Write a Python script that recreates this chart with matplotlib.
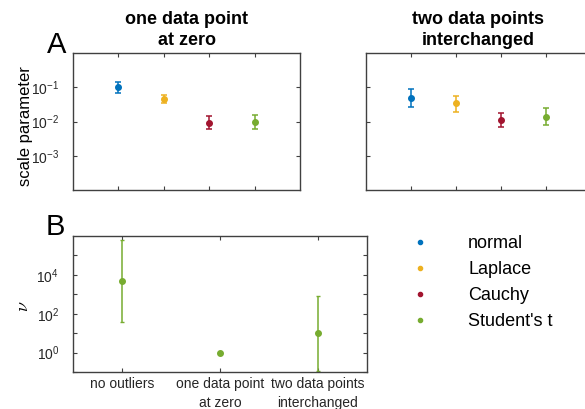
import numpy as np
import matplotlib.pyplot as plt
from matplotlib.lines import Line2D
from matplotlib.ticker import NullLocator, FixedLocator, NullFormatter

plt.rcParams["font.family"] = ["Liberation Sans", "DejaVu Sans"]
plt.rcParams["mathtext.fontset"] = "cm"
plt.rcParams["axes.unicode_minus"] = False

# ── Data ──────────────────────────────────────────────────────────────────────
DISTS  = ["normal", "Laplace", "Cauchy", "Student's t"]
COLORS = ["#0072BD", "#EDB120", "#A2142F", "#77AC30"]

# scale parameter (estimate, lower, upper) - one data point at zero
zero_mid = [0.100, 0.0466, 0.0091, 0.0094]
zero_lo  = [0.068, 0.0347, 0.0060, 0.0060]
zero_hi  = [0.140, 0.0610, 0.0140, 0.0151]

# scale parameter - two data points interchanged
swap_mid = [0.0497, 0.0339, 0.0112, 0.0137]
swap_lo  = [0.0270, 0.0193, 0.0071, 0.0080]
swap_hi  = [0.0897, 0.0570, 0.0177, 0.0240]

# Student's t degrees of freedom
CASES  = ["no outliers", "one data point\nat zero", "two data points\ninterchanged"]
nu_mid = [5000, 1.0, 10]
nu_lo  = [38, 1.0, 0.115]
nu_hi  = [6.4e5, 1.0, 840]

AXC = "#404040"

# ── Figure ────────────────────────────────────────────────────────────────────
W, H = 585, 409
fig = plt.figure(figsize=(W / 100, H / 100), dpi=100)


def px_axes(x0, y0, x1, y1):
    return fig.add_axes([x0 / W, 1 - y1 / H, (x1 - x0) / W, (y1 - y0) / H])


def style(ax):
    for s in ax.spines.values():
        s.set_color(AXC)
        s.set_linewidth(1.0)
    ax.tick_params(which="both", direction="in", top=True, right=True,
                   length=3, width=0.8, color=AXC, labelsize=10,
                   labelcolor="#262626")
    ax.tick_params(axis="y", which="both", pad=10)


ax_zero = px_axes(73, 53, 300, 190)
ax_swap = px_axes(366, 53, 591, 190)
ax_nu   = px_axes(73, 236, 367, 372)

panels = [(ax_zero, zero_mid, zero_lo, zero_hi, "one data point\nat zero"),
          (ax_swap, swap_mid, swap_lo, swap_hi, "two data points\ninterchanged")]

for ax, mid, lo, hi, title in panels:
    xs = np.arange(1, len(DISTS) + 1)
    for i in range(len(DISTS)):
        ax.errorbar(xs[i], mid[i], yerr=[[mid[i] - lo[i]], [hi[i] - mid[i]]],
                    fmt="o", color=COLORS[i], ms=4, capsize=2,
                    elinewidth=1.1, capthick=1.1)
    ax.set_yscale("log")
    ax.set_ylim(1e-4, 1)
    ax.set_xlim(0, 5)
    ax.set_xticks(xs)
    ax.set_xticklabels([])
    ax.yaxis.set_major_locator(FixedLocator([1e-3, 1e-2, 1e-1]))
    ax.yaxis.set_minor_locator(NullLocator())
    style(ax)
    ax.set_title(title, fontsize=13, fontweight="bold", pad=6, linespacing=1.3)

ax_swap.tick_params(axis="y", labelleft=False)
ax_zero.set_ylabel("scale parameter", fontsize=12)
ax_zero.yaxis.set_label_coords(-0.176, 0.47)

# ── Panel B: degrees of freedom ───────────────────────────────────────────────
xb = np.arange(1, len(CASES) + 1)
ax_nu.errorbar(xb, nu_mid,
               yerr=[np.array(nu_mid) - np.array(nu_lo),
                     np.array(nu_hi) - np.array(nu_mid)],
               fmt="o", color=COLORS[3], ms=4, capsize=1.3,
               elinewidth=1.1, capthick=1.0)
ax_nu.set_yscale("log")
ax_nu.set_ylim(1e-1, 1e6)
ax_nu.set_xlim(0.5, 3.5)
ax_nu.set_xticks(xb)
ax_nu.set_xticklabels(CASES)
ax_nu.yaxis.set_major_locator(FixedLocator([1, 1e2, 1e4]))
ax_nu.yaxis.set_minor_locator(FixedLocator([1e-1, 1e1, 1e3, 1e5]))
ax_nu.yaxis.set_minor_formatter(NullFormatter())
style(ax_nu)
for lbl in ax_nu.get_xticklabels():
    lbl.set_linespacing(1.45)
ax_nu.set_ylabel(r"$\nu$", fontsize=13)
ax_nu.yaxis.set_label_coords(-0.139, 0.48)

# ── Legend ────────────────────────────────────────────────────────────────────
handles = [Line2D([], [], ls="none", marker="o", ms=3, color=c) for c in COLORS]
fig.legend(handles, DISTS, loc="upper left",
           bbox_to_anchor=(402 / W, 1 - 235 / H), frameon=False, fontsize=13,
           handlelength=2, handletextpad=1.67, labelspacing=0.5,
           borderaxespad=0, borderpad=0)

# panel letters
fig.text(47 / W, 1 - 53 / H, "A", fontsize=21, va="baseline")
fig.text(46 / W, 1 - 235 / H, "B", fontsize=21, va="baseline")

fig.savefig("out.png", dpi=100)
